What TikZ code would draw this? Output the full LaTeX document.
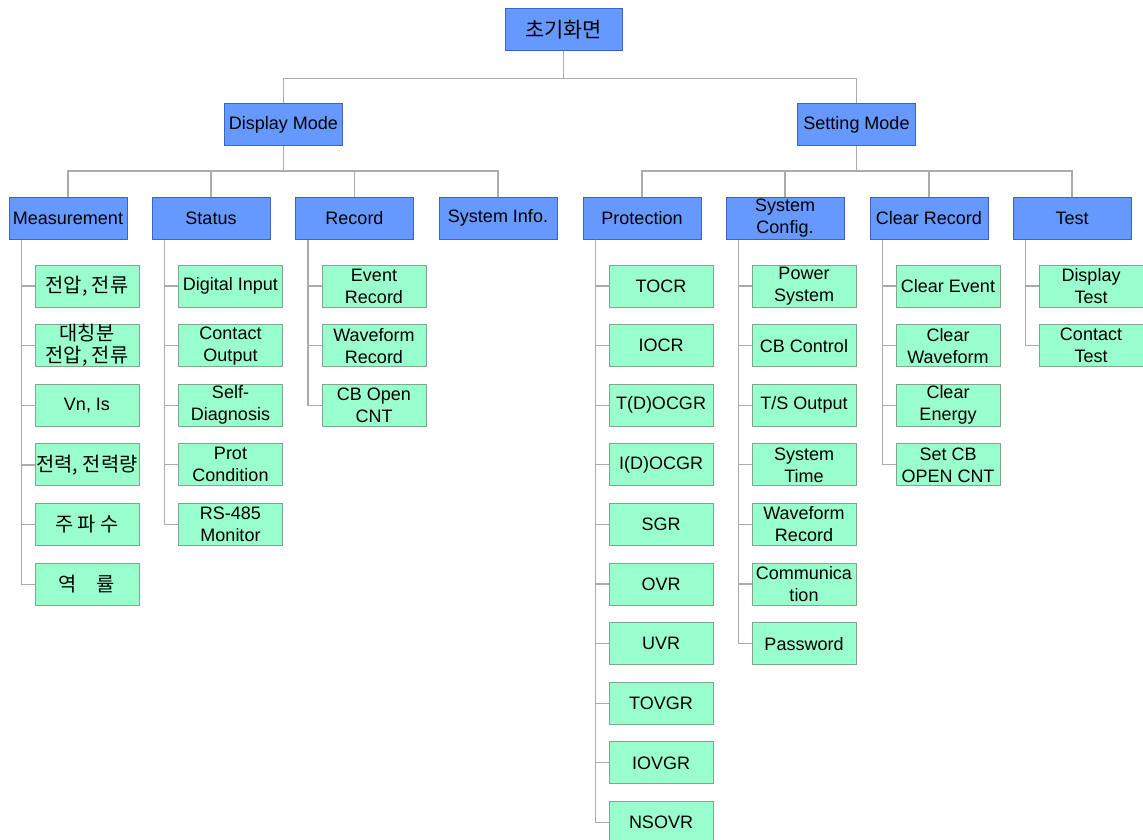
\documentclass[tikz,border=0pt]{standalone}
\usepackage{fontspec}
\setmainfont{Liberation Sans}
\newfontfamily\kr[Scale=1.1]{Noto Sans CJK KR}
\usepackage{tikz}
\usetikzlibrary{positioning}
\definecolor{modeblue}{HTML}{6699FF}
\definecolor{modeedge}{HTML}{3D64C4}
\definecolor{itemgreen}{HTML}{99FFCC}
\definecolor{itemedge}{HTML}{7DA88F}
\definecolor{treegray}{HTML}{ABABAB}

\tikzset{
  menubox/.style={fill=modeblue, draw=modeedge, line width=1pt, minimum width=118pt,
                  minimum height=42pt, inner sep=0pt, align=center,
                  font=\fontsize{18}{22}\selectfont},
  itembox/.style={fill=itemgreen, draw=itemedge, line width=1pt, minimum width=104pt,
                  minimum height=42pt, inner sep=0pt, align=center,
                  font=\fontsize{18}{22}\selectfont},
  treeline/.style={draw=treegray, line width=1.2pt},
}

\begin{document}
\begin{tikzpicture}[x=1pt, y=-1pt, node distance=16.6pt]
    \useasboundingbox (0,0) rectangle (1143,840);
    \clip (0,0) rectangle (1143,840);

    % top levels
    \node[menubox, minimum width=117pt] (root) at (563.5,30) {\kr\fontsize{19}{22}\selectfont 초기화면};
    \node[menubox] (disp) at (283.5,124.5) {Display Mode};
    \node[menubox] (sett) at (856.5,124.5) {Setting Mode};

    \node[menubox] (meas) at (68,218) {Measurement};
    \node[menubox] (stat) at (211,218) {Status};
    \node[menubox] (reco) at (354.5,218) {Record};
    \node[menubox] (sinf) at (498,218) {System Info.};
    \node[menubox] (prot) at (642,218) {Protection};
    \node[menubox] (scfg) at (785,218) {System\\Config.};
    \node[menubox] (clrr) at (929,218) {Clear Record};
    \node[menubox] (test) at (1072,218) {Test};

    % measurement
    \node[itembox] (m1) at (87,286) {\kr 전압, 전류};
    \node[itembox, below=of m1] (m2) {\kr 대칭분\\\kr 전압, 전류};
    \node[itembox, below=of m2] (m3) {Vn, Is};
    \node[itembox, below=of m3] (m4) {\kr 전력, 전력량};
    \node[itembox, below=of m4] (m5) {\kr 주 파 수};
    \node[itembox, below=of m5] (m6) {\kr 역\quad 률};

    % status
    \node[itembox] (s1) at (230.5,286) {Digital Input};
    \node[itembox, below=of s1] (s2) {Contact\\Output};
    \node[itembox, below=of s2] (s3) {Self-\\Diagnosis};
    \node[itembox, below=of s3] (s4) {Prot\\Condition};
    \node[itembox, below=of s4] (s5) {RS-485\\Monitor};

    % record
    \node[itembox] (r1) at (374,286) {Event\\Record};
    \node[itembox, below=of r1] (r2) {Waveform\\Record};
    \node[itembox, below=of r2] (r3) {CB Open\\CNT};

    % protection
    \node[itembox] (p1) at (661,286) {TOCR};
    \node[itembox, below=of p1] (p2) {IOCR};
    \node[itembox, below=of p2] (p3) {T(D)OCGR};
    \node[itembox, below=of p3] (p4) {I(D)OCGR};
    \node[itembox, below=of p4] (p5) {SGR};
    \node[itembox, below=of p5] (p6) {OVR};
    \node[itembox, below=of p6] (p7) {UVR};
    \node[itembox, below=of p7] (p8) {TOVGR};
    \node[itembox, below=of p8] (p9) {IOVGR};
    \node[itembox, below=of p9] (p10) {NSOVR};

    % system config
    \node[itembox] (c1) at (804,286) {Power\\System};
    \node[itembox, below=of c1] (c2) {CB Control};
    \node[itembox, below=of c2] (c3) {T/S Output};
    \node[itembox, below=of c3] (c4) {System\\Time};
    \node[itembox, below=of c4] (c5) {Waveform\\Record};
    \node[itembox, below=of c5] (c6) {Communica\\tion};
    \node[itembox, below=of c6] (c7) {Password};

    % clear record
    \node[itembox] (e1) at (948,286) {Clear Event};
    \node[itembox, below=of e1] (e2) {Clear\\Waveform};
    \node[itembox, below=of e2] (e3) {Clear\\Energy};
    \node[itembox, below=of e3] (e4) {Set CB\\OPEN CNT};

    % test
    \node[itembox] (t1) at (1091,286) {Display\\Test};
    \node[itembox, below=of t1] (t2) {Contact\\Test};

    % connectors
    \draw[treeline] (root.south) -- ++(0,27) -| (disp.north);
    \draw[treeline] (root.south) -- ++(0,27) -| (sett.north);
    \foreach \sub in {meas,stat,reco,sinf}
      \draw[treeline] (disp.south) -- ++(0,25) -| (\sub.north);
    \foreach \sub in {prot,scfg,clrr,test}
      \draw[treeline] (sett.south) -- ++(0,25) -| (\sub.north);

    \foreach \leaf in {m1,m2,m3,m4,m5,m6}
      \draw[treeline] ([xshift=13pt]meas.south west) |- (\leaf.west);
    \foreach \leaf in {s1,s2,s3,s4,s5}
      \draw[treeline] ([xshift=13pt]stat.south west) |- (\leaf.west);
    \foreach \leaf in {r1,r2,r3}
      \draw[treeline] ([xshift=13pt]reco.south west) |- (\leaf.west);
    \foreach \leaf in {p1,p2,p3,p4,p5,p6,p7,p8,p9,p10}
      \draw[treeline] ([xshift=13pt]prot.south west) |- (\leaf.west);
    \foreach \leaf in {c1,c2,c3,c4,c5,c6,c7}
      \draw[treeline] ([xshift=13pt]scfg.south west) |- (\leaf.west);
    \foreach \leaf in {e1,e2,e3,e4}
      \draw[treeline] ([xshift=13pt]clrr.south west) |- (\leaf.west);
    \foreach \leaf in {t1,t2}
      \draw[treeline] ([xshift=13pt]test.south west) |- (\leaf.west);
\end{tikzpicture}
\end{document}
